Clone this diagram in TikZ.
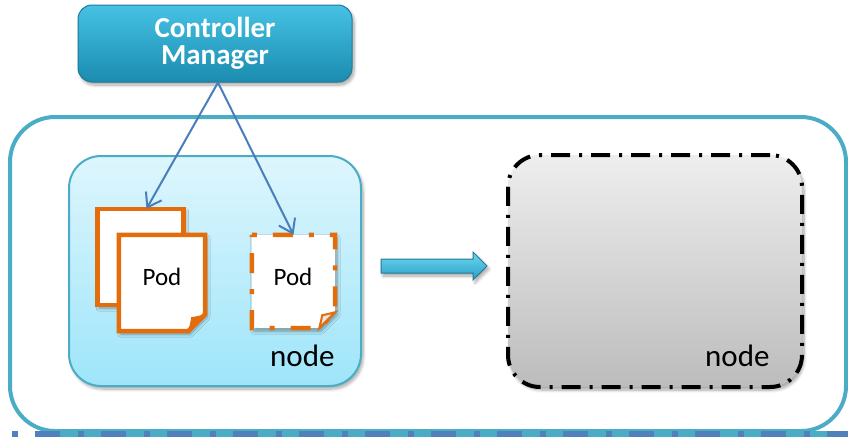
\documentclass[tikz,border=0pt]{standalone}
\usepackage{fontspec}
\setmainfont{Carlito}
\usetikzlibrary{arrows.meta,shadows,shadows.blur,calc}
\definecolor{clusterc}{RGB}{75,172,198}
\definecolor{darkb}{RGB}{79,129,189}
\definecolor{podor}{RGB}{228,108,10}
\definecolor{arrb}{RGB}{74,126,187}
\definecolor{cmtop}{RGB}{70,194,228}
\definecolor{cmbot}{RGB}{26,140,176}
\definecolor{cmline}{RGB}{35,120,150}
\definecolor{lntop}{RGB}{222,246,253}
\definecolor{lnbot}{RGB}{158,229,250}
\definecolor{gtop}{RGB}{238,238,238}
\definecolor{gbot}{RGB}{188,188,188}
\definecolor{bigtop}{RGB}{110,214,240}
\definecolor{bigbot}{RGB}{40,160,200}
\begin{document}
\begin{tikzpicture}[x=1pt,y=-1pt,
  softshadow/.style={blur shadow={shadow xshift=2pt, shadow yshift=-3pt, shadow blur radius=3pt, shadow blur steps=8, shadow opacity=35}},
  cluster/.style={draw=clusterc, line width=4pt, rounded corners=45pt, minimum width=836pt, minimum height=314pt, inner sep=0pt},
  band/.style={line width=6pt},
  cmbox/.style={rounded corners=14pt, draw=cmline, line width=1pt, top color=cmtop, bottom color=cmbot, minimum width=274pt, minimum height=77pt, text=white, font=\bfseries\fontsize{29}{27}\selectfont, align=center, softshadow},
  lnode/.style={rounded corners=32pt, draw=clusterc, line width=2pt, top color=lntop, bottom color=lnbot, minimum width=292pt, minimum height=230pt, inner sep=0pt, softshadow},
  gnode/.style={rounded corners=32pt, draw=black, line width=4pt, dash pattern=on 19pt off 9pt on 3pt off 9pt, top color=gtop, bottom color=gbot, minimum width=294pt, minimum height=232pt, inner sep=0pt, softshadow},
  podbox/.style={rectangle, inner sep=0pt, minimum width=86pt, minimum height=96pt},
  podline/.style={draw=podor, line width=4.5pt, fill=white, line join=miter, softshadow},
  poddash/.style={draw=podor, line width=4.5pt, fill=white, line join=miter, dash pattern=on 5pt off 16pt on 20pt off 16pt, softshadow},
  podtxt/.style={font=\fontsize{25}{28}\selectfont, inner sep=0pt},
  lbl/.style={font=\fontsize{31}{34}\selectfont, inner sep=0pt},
  conn/.style={draw=arrb, line width=2pt, -{Straight Barb[length=13pt,width=18pt]}},
  bigarr/.style={draw=cmline, line width=1pt, top color=bigtop, bottom color=bigbot, softshadow}
]
\useasboundingbox (0,0) rectangle (848,437);
% cluster
\node[cluster] (cluster) at (428,274) {};
\draw[band, clusterc] (35,434) -- (860,434);
\draw[band, darkb, dash pattern=on 6pt off 17pt on 25pt off 18pt] (12,434) -- (860,434);
% node boxes
\node[lnode] (lnode) at (215,271) {};
\node[gnode] (gnode) at (655,271) {};
% pods
\node[podbox] (podB) at (140.5,257) {};
\node[podbox] (podF) at (162,283) {};
\node[podbox, minimum width=83pt, minimum height=93pt] (podD) at (293.5,281.5) {};
\path[podline] (podB.north west) -- (podB.north east) -- (podB.south east) -- (podB.south west) -- cycle;
\path[podline] (podF.north west) -- (podF.north east) -- ($(podF.south east)+(0,-17)$) -- ($(podF.south east)+(-17,0)$) -- (podF.south west) -- cycle;
\fill[podor] ($(podF.south east)+(0,-17)$) .. controls ($(podF.south east)+(-8,-15)$) .. ($(podF.south east)+(-14,-14)$) .. controls ($(podF.south east)+(-15,-8)$) .. ($(podF.south east)+(-17,0)$) -- cycle;
\path[poddash] (podD.north west) -- (podD.north east) -- ($(podD.south east)+(0,-16)$) -- ($(podD.south east)+(-16,0)$) -- (podD.south west) -- cycle;
\filldraw[draw=podor, line width=2pt, fill=gray!20] ($(podD.south east)+(0,-16)$) .. controls ($(podD.south east)+(-8,-14)$) .. ($(podD.south east)+(-13,-13)$) .. controls ($(podD.south east)+(-14,-8)$) .. ($(podD.south east)+(-16,0)$) -- cycle;
\node[podtxt, anchor=base] (pt1) at (162,285) {Pod};
\node[podtxt, anchor=base] (pt2) at (293,285) {Pod};
% labels
\node[lbl, anchor=base west] (ln) at (270,366) {node};
\node[lbl, anchor=base west] (rn) at (705,366) {node};
% big arrow
\path[bigarr] (381,259) -- (473,259) -- (473,252) -- (487,266) -- (473,280) -- (473,273) -- (381,273) -- cycle;
% controller manager
\node[cmbox] (cm) at (215,43.5) {Controller\\Manager};
\draw[conn] ($(cm.south)+(3,0)$) -- ($(podB.north)+(6,0)$);
\draw[conn] ($(cm.south)+(3,0)$) -- (podD.north);
\end{tikzpicture}
\end{document}
